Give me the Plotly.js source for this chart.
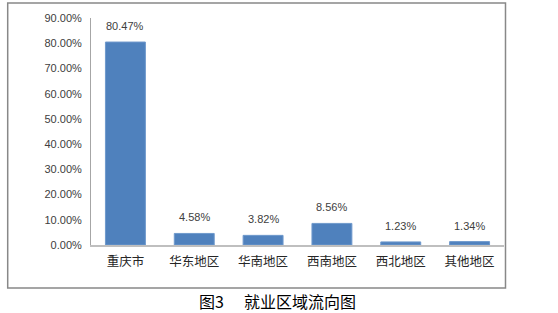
<!DOCTYPE html>
<html><head><meta charset="utf-8">
<script src="https://cdn.plot.ly/plotly-3.0.1.min.js"></script>
<style>html,body{margin:0;padding:0;background:#fff;}#chart{width:558px;height:313px;}</style>
</head><body><div id="chart"></div>
<script>
const categories = ["重庆市", "华东地区", "华南地区", "西南地区", "西北地区", "其他地区"];
const values = [80.47, 4.58, 3.82, 8.56, 1.23, 1.34];
const valueLabels = ["80.47%", "4.58%", "3.82%", "8.56%", "1.23%", "1.34%"];
const yTickVals = [0, 10, 20, 30, 40, 50, 60, 70, 80, 90];
const yTickText = ["0.00%", "10.00%", "20.00%", "30.00%", "40.00%", "50.00%", "60.00%", "70.00%", "80.00%", "90.00%"];
const captionNumber = "图3";
const captionTitle = "就业区域流向图";

const L = 90.5, R = 53.5, T = 18, B = 68, W = 558, H = 313;
const pw = W - L - R, ph = H - T - B;
const px = v => (v - L) / pw;
const py = v => (H - B - v) / ph;

const annotations = categories.map((c, i) => ({
  x: c, y: values[i], xref: 'x', yref: 'y', text: valueLabels[i],
  showarrow: false, yanchor: 'bottom', yshift: 8,
  font: {family: 'Liberation Sans, Arial, sans-serif', size: 11, color: '#404040'}
}));
const capFont = {family: 'Noto Sans CJK SC, sans-serif', size: 16, color: '#000'};
annotations.push({
  x: px(197), y: py(300.5), xref: 'paper', yref: 'paper', text: captionNumber,
  showarrow: false, xanchor: 'left', yanchor: 'middle', font: capFont
});
annotations.push({
  x: px(242), y: py(300.5), xref: 'paper', yref: 'paper', text: captionTitle,
  showarrow: false, xanchor: 'left', yanchor: 'middle', font: capFont
});

Plotly.newPlot('chart', [{
  type: 'bar', x: categories, y: values,
  marker: {color: '#4F81BD', line: {color: '#6F99CC', width: 1}},
  hoverinfo: 'skip'
}], {
  width: W, height: H,
  margin: {l: L, r: R, t: T, b: B, pad: 0},
  paper_bgcolor: '#fff', plot_bgcolor: '#fff',
  showlegend: false, bargap: 0.42,
  xaxis: {
    showgrid: false, zeroline: false, showline: true, linecolor: '#BFBFBF', linewidth: 2,
    ticks: '', ticklabelstandoff: 4,
    tickfont: {family: 'Noto Sans CJK SC, sans-serif', size: 12.5, color: '#262626'}
  },
  yaxis: {
    range: [0, 90], showgrid: false, zeroline: false, showline: true, linecolor: '#A6A6A6', linewidth: 1,
    ticks: '', tickvals: yTickVals, ticktext: yTickText, ticklabelstandoff: 6,
    tickfont: {family: 'Liberation Sans, Arial, sans-serif', size: 11, color: '#404040'}
  },
  annotations: annotations,
  shapes: [{
    type: 'rect', xref: 'paper', yref: 'paper',
    x0: px(7), x1: px(506), y0: py(288), y1: py(3),
    line: {color: '#888888', width: 1.5}, fillcolor: 'rgba(0,0,0,0)', layer: 'below'
  }]
}, {staticPlot: true});
</script></body></html>
